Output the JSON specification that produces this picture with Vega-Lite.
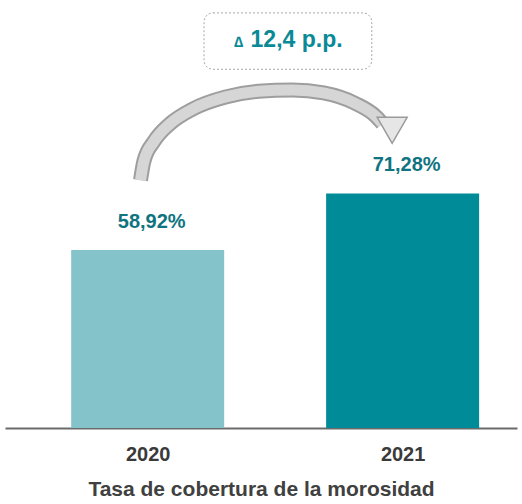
{
  "$schema": "https://vega.github.io/schema/vega-lite/v6.json",
  "width": 522,
  "height": 504,
  "autosize": {"type": "fit", "contains": "padding"},
  "background": "white",
  "config": {"view": {"stroke": null}},
  "data": {
    "values": [
      {"kind": "bar", "year": 2020, "value": 58.92, "label": "58,92%"},
      {"kind": "bar", "year": 2021, "value": 71.28, "label": "71,28%"},
      {"kind": "box", "year": 2020.221, "year2": 2020.879, "value": 110.75, "value2": 98.43},
      {"kind": "note", "year": 2020.584, "value": 103.25, "label": "12,4 p.p."},
      {"kind": "delta", "year": 2020.357, "value": 103.25, "label": "∆"},
      {"kind": "arrow", "step": 0, "year": 2019.972, "value": 74.17},
      {"kind": "arrow", "step": 1, "year": 2019.985, "value": 78.28},
      {"kind": "arrow", "step": 2, "year": 2020.024, "value": 82.6},
      {"kind": "arrow", "step": 3, "year": 2020.088, "value": 86.55},
      {"kind": "arrow", "step": 4, "year": 2020.178, "value": 89.79},
      {"kind": "arrow", "step": 5, "year": 2020.306, "value": 92.39},
      {"kind": "arrow", "step": 6, "year": 2020.434, "value": 93.62},
      {"kind": "arrow", "step": 7, "year": 2020.568, "value": 93.9},
      {"kind": "arrow", "step": 8, "year": 2020.69, "value": 93.25},
      {"kind": "arrow", "step": 9, "year": 2020.812, "value": 91.02},
      {"kind": "arrow", "step": 10, "year": 2020.895, "value": 88.13},
      {"kind": "arrow", "step": 11, "year": 2020.921, "value": 86.55},
      {"kind": "head", "year": 2020.959, "value": 85.08}
    ]
  },
  "layer": [
    {
      "transform": [{"filter": "datum.kind === 'arrow'"}],
      "mark": {"type": "line", "color": "#9e9e9e", "strokeWidth": 15, "strokeCap": "butt", "interpolate": "monotone"},
      "encoding": {
        "x": {"field": "year", "type": "quantitative"},
        "y": {"field": "value", "type": "quantitative", "axis": null},
        "order": {"field": "step", "type": "quantitative"}
      }
    },
    {
      "transform": [{"filter": "datum.kind === 'arrow'"}],
      "mark": {"type": "line", "color": "#d6d6d6", "strokeWidth": 11, "strokeCap": "butt", "interpolate": "monotone"},
      "encoding": {
        "x": {"field": "year", "type": "quantitative"},
        "y": {"field": "value", "type": "quantitative", "axis": null},
        "order": {"field": "step", "type": "quantitative"}
      }
    },
    {
      "transform": [{"filter": "datum.kind === 'head'"}],
      "mark": {"type": "point", "shape": "triangle-down", "filled": true, "fill": "#e6e6e6", "stroke": "#9a9a9a", "strokeWidth": 1.5, "opacity": 1, "size": 900},
      "encoding": {
        "x": {"field": "year", "type": "quantitative"},
        "y": {"field": "value", "type": "quantitative", "axis": null}
      }
    },
    {
      "transform": [{"filter": "datum.kind === 'bar'"}],
      "mark": {"type": "bar", "width": 153},
      "encoding": {
        "x": {
          "field": "year",
          "type": "quantitative",
          "scale": {"domain": [2019.46, 2021.429], "nice": false, "zero": false},
          "axis": {
            "values": [2020, 2021],
            "format": "d",
            "title": "Tasa de cobertura de la morosidad",
            "ticks": false,
            "grid": false,
            "domainColor": "#6b6b6b",
            "domainWidth": 2,
            "labelFont": "'Liberation Sans Narrow', 'Liberation Sans', sans-serif",
            "labelFontSize": 20,
            "labelFontWeight": "bold",
            "labelColor": "#3a3a3a",
            "labelPadding": 16,
            "titleFont": "Liberation Sans",
            "titleFontSize": 21,
            "titleFontWeight": "bold",
            "titleColor": "#404040",
            "titlePadding": 14
          }
        },
        "y": {
          "field": "value",
          "type": "quantitative",
          "scale": {"domain": [20, 112.48], "nice": false, "zero": false, "clamp": true},
          "axis": null
        },
        "color": {
          "field": "label",
          "type": "nominal",
          "scale": {"domain": ["58,92%", "71,28%"], "range": ["#85c3ca", "#008b99"]},
          "legend": null
        }
      }
    },
    {
      "transform": [{"filter": "datum.kind === 'bar'"}],
      "mark": {"type": "text", "font": "'Liberation Sans Narrow', 'Liberation Sans', sans-serif", "fontSize": 20, "fontWeight": "bold", "color": "#107480", "baseline": "alphabetic", "dy": -22, "dx": 4},
      "encoding": {
        "x": {"field": "year", "type": "quantitative"},
        "y": {"field": "value", "type": "quantitative", "axis": null},
        "text": {"field": "label", "type": "nominal"}
      }
    },
    {
      "transform": [{"filter": "datum.kind === 'box'"}],
      "mark": {"type": "rect", "fill": "white", "stroke": "#a6a6a6", "strokeWidth": 1, "strokeDash": [2, 2], "cornerRadius": 9},
      "encoding": {
        "x": {"field": "year", "type": "quantitative"},
        "x2": {"field": "year2"},
        "y": {"field": "value", "type": "quantitative", "axis": null},
        "y2": {"field": "value2"}
      }
    },
    {
      "transform": [{"filter": "datum.kind === 'note'"}],
      "mark": {"type": "text", "font": "Liberation Sans", "fontSize": 23, "fontWeight": "bold", "color": "#0a8a96", "baseline": "alphabetic", "align": "center"},
      "encoding": {
        "x": {"field": "year", "type": "quantitative"},
        "y": {"field": "value", "type": "quantitative", "axis": null},
        "text": {"field": "label", "type": "nominal"}
      }
    },
    {
      "transform": [{"filter": "datum.kind === 'delta'"}],
      "mark": {"type": "text", "font": "Liberation Sans", "fontSize": 15, "fontWeight": "bold", "color": "#0a8a96", "baseline": "alphabetic", "align": "center"},
      "encoding": {
        "x": {"field": "year", "type": "quantitative"},
        "y": {"field": "value", "type": "quantitative", "axis": null},
        "text": {"field": "label", "type": "nominal"}
      }
    }
  ]
}
